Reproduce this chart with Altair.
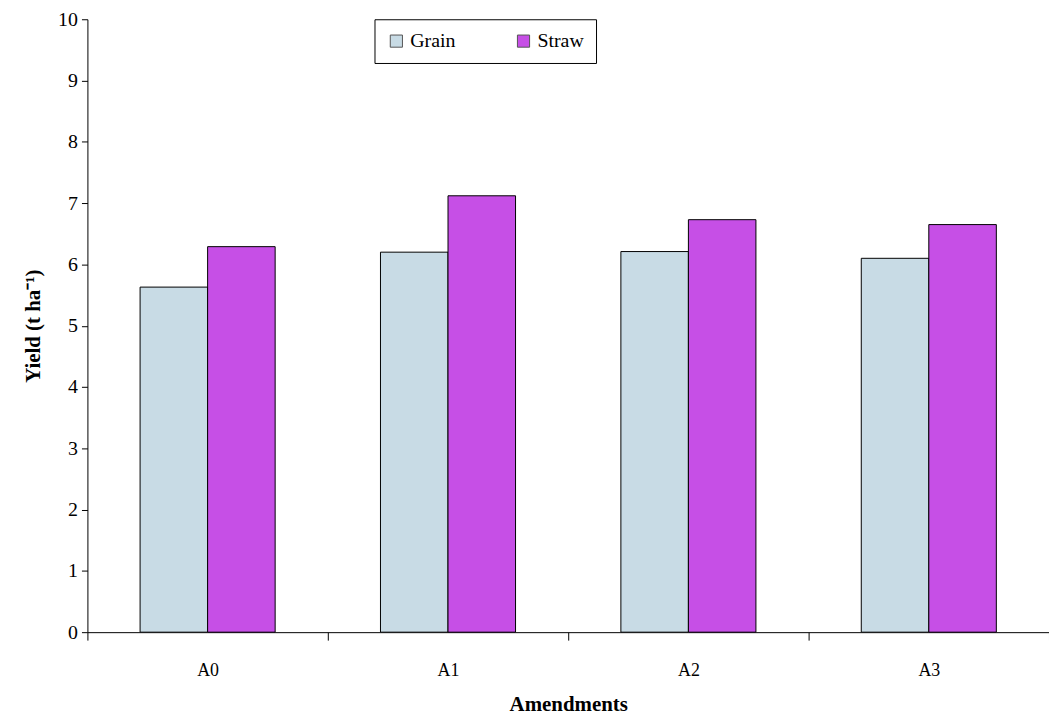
import altair as alt
import pandas as pd

# Yield by amendment (t/ha)
amendments = ["A0", "A1", "A2", "A3"]
grain = [5.63, 6.20, 6.21, 6.10]
straw = [6.29, 7.12, 6.73, 6.65]
components = ["Grain", "Straw"]
colors = ["#c8dbe5", "#c64fe6"]

rows = []
for i, a in enumerate(amendments):
    rows.append({"Amendment": a, "Part": "Grain", "Yield": grain[i]})
    rows.append({"Amendment": a, "Part": "Straw", "Yield": straw[i]})
df = pd.DataFrame(rows)

FONT = "Liberation Serif"

bars = alt.Chart(df).mark_bar(stroke="black", strokeWidth=1).encode(
    x=alt.X(
        "Amendment:N",
        sort=amendments,
        scale=alt.Scale(paddingInner=0, paddingOuter=0),
        axis=alt.Axis(
            title="Amendments",
            labelAngle=0,
            labelFont=FONT,
            labelFontSize=18,
            labelColor="black",
            labelPadding=22,
            tickBand="extent",
            tickSize=8,
            tickColor="black",
            tickWidth=1,
            domainColor="black",
            domainWidth=1,
            titleFont=FONT,
            titleFontSize=21,
            titleFontWeight="bold",
            titleColor="black",
            titlePadding=14,
        ),
    ),
    xOffset=alt.XOffset(
        "Part:N",
        sort=components,
        scale=alt.Scale(paddingInner=0, paddingOuter=0.78),
    ),
    y=alt.Y(
        "Yield:Q",
        scale=alt.Scale(domain=[0, 10]),
        axis=alt.Axis(
            title="Yield (t ha⁻¹)",
            values=list(range(0, 11)),
            format="d",
            grid=False,
            labelFont=FONT,
            labelFontSize=20,
            labelColor="black",
            labelPadding=4,
            tickSize=6,
            tickColor="black",
            domainColor="black",
            titleFont=FONT,
            titleFontSize=21,
            titleFontWeight="bold",
            titleColor="black",
            titlePadding=14,
        ),
    ),
    fill=alt.Fill(
        "Part:N",
        sort=components,
        scale=alt.Scale(domain=components, range=colors),
        legend=alt.Legend(
            title=None,
            orient="none",
            legendX=289,
            legendY=0,
            direction="horizontal",
            symbolType="square",
            symbolSize=150,
            symbolStrokeColor="#555555",
            symbolStrokeWidth=1,
            labelFont=FONT,
            labelFontSize=20,
            labelColor="black",
            columnPadding=58,
            padding=12,
            strokeColor="black",
            fillColor="white",
        ),
    ),
).properties(width=968, height=617)

chart = bars.configure_view(stroke=None).properties(
    autosize=alt.AutoSizeParams(type="none"),
    padding={"left": 88, "top": 17, "right": 0, "bottom": 83},
    background="white",
)

chart.save("out.html", embed_options={"renderer": "svg", "actions": False})
